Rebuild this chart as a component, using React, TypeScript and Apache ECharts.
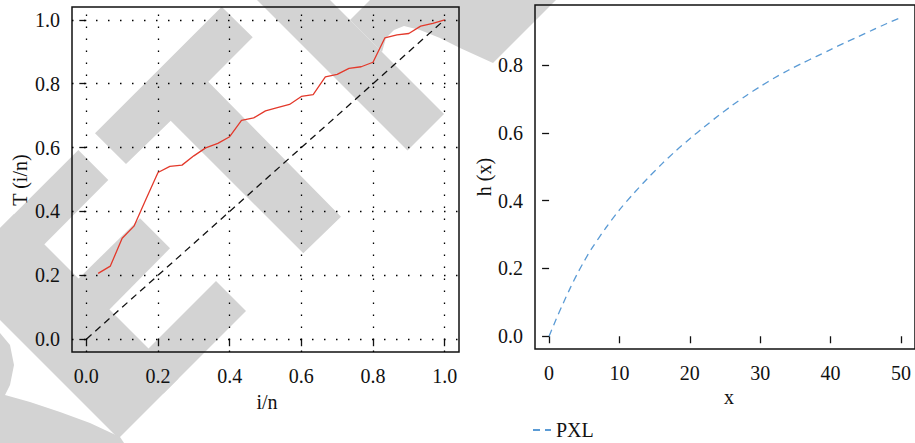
import React, { useEffect, useRef } from "react";
import * as echarts from "echarts";

// ---- data ----
const gridTicks = [0, 0.2, 0.4, 0.6, 0.8, 1.0];
const tX = [0.033, 0.067, 0.1, 0.133, 0.167, 0.2, 0.233, 0.267, 0.3, 0.333, 0.367, 0.4, 0.433, 0.467, 0.5, 0.533, 0.567, 0.6, 0.633, 0.667, 0.7, 0.733, 0.767, 0.8, 0.833, 0.867, 0.9, 0.933, 0.967, 1.0];
const tY = [0.206, 0.229, 0.316, 0.354, 0.44, 0.522, 0.541, 0.545, 0.574, 0.599, 0.613, 0.634, 0.685, 0.693, 0.715, 0.725, 0.735, 0.76, 0.766, 0.821, 0.829, 0.848, 0.853, 0.867, 0.943, 0.953, 0.957, 0.98, 0.989, 1.0];
const diagX = [0, 1];
const diagY = [0, 1];
const hX = [0, 1, 2, 3, 4, 5, 6, 8, 10, 12, 14, 16, 18, 20, 22, 24, 26, 28, 30, 32, 34, 36, 38, 40, 42, 44, 46, 48, 50];
const hY = [0, 0.05, 0.097, 0.142, 0.184, 0.222, 0.257, 0.318, 0.373, 0.421, 0.466, 0.508, 0.547, 0.583, 0.617, 0.65, 0.681, 0.71, 0.737, 0.762, 0.785, 0.806, 0.826, 0.846, 0.866, 0.885, 0.904, 0.923, 0.941];
const hXTicks = [0, 10, 20, 30, 40, 50];
const hYTicks = [0, 0.2, 0.4, 0.6, 0.8];
const legendNames = ["PXL"];

// background watermark shapes (decoration)
const wmShapes: number[][][] = [
  [[95, 133.3], [221.7, 6.7], [252.7, 37.3], [208.3, 81.7], [341, 216.7], [303.3, 253.3], [170.7, 120.7], [126, 164]],
  [[247, -10], [320, -10], [444, 114], [407.5, 150.5]],
  [[380, -10], [350, 20], [382, 52], [386, 38], [394, 30], [404, 26], [420, 30], [440, 38], [460, 48], [493, 63], [566, -10]],
  [[-10, 238.3], [78.3, 150], [108.3, 180], [-10, 299]],
  [[14, 214], [178.5, 378.5], [118.5, 438.5], [-46, 274]],
  [[140, 218.3], [170, 248.3], [104.5, 314.5], [73.5, 283.5]],
  [[216, 281], [246, 311], [163.5, 393.5], [133.5, 363.5]],
  [[0, 333], [10, 345], [14, 365], [10, 385], [5, 395], [30, 402], [60, 412], [90, 423], [120, 437], [124, 443], [0, 443]],
];

const serif = "'Liberation Serif', 'DejaVu Serif', serif";
const ink = "#111111";
const fs = 20;

export default function App() {
  const ref = useRef<HTMLDivElement>(null);

  useEffect(() => {
    document.body.style.margin = "0";
    if (!ref.current) return;
    const chart = echarts.init(ref.current, undefined, { renderer: "svg" });

    const labelStyle = { color: ink, fontFamily: serif, fontSize: fs };
    const tickStyle = { show: true, inside: false, length: 7, lineStyle: { color: ink, width: 1.3 } };

    const option: any = {
      animation: false,
      backgroundColor: "#ffffff",
      grid: [
        { left: 72, top: 7, width: 387, height: 345, show: true, borderColor: ink, borderWidth: 1.5, backgroundColor: "transparent" },
        { left: 535, top: 5, width: 387, height: 344, show: true, borderColor: ink, borderWidth: 1.5, backgroundColor: "transparent" },
      ],
      xAxis: [
        {
          type: "value", gridIndex: 0, min: -0.04, max: 1.04,
          axisLine: { show: false }, splitLine: { show: false },
          axisTick: { ...tickStyle, customValues: gridTicks },
          axisLabel: { ...labelStyle, customValues: gridTicks, margin: 14, formatter: (v: number) => v.toFixed(1) },
        },
        {
          type: "value", gridIndex: 1, min: -2, max: 52,
          axisLine: { show: false }, splitLine: { show: false },
          axisTick: { ...tickStyle, customValues: hXTicks },
          axisLabel: { ...labelStyle, customValues: hXTicks, margin: 14, formatter: (v: number) => String(v) },
        },
      ],
      yAxis: [
        {
          type: "value", gridIndex: 0, min: -0.04, max: 1.04,
          axisLine: { show: false }, splitLine: { show: false },
          axisTick: { ...tickStyle, customValues: gridTicks },
          axisLabel: { ...labelStyle, customValues: gridTicks, margin: 12, formatter: (v: number) => v.toFixed(1) },
        },
        {
          type: "value", gridIndex: 1, min: -0.0376, max: 0.9776,
          axisLine: { show: false }, splitLine: { show: false },
          axisTick: { ...tickStyle, customValues: hYTicks },
          axisLabel: { ...labelStyle, customValues: hYTicks, margin: 12, formatter: (v: number) => v.toFixed(1) },
        },
      ],
      legend: {
        data: legendNames,
        left: 532, top: 420, padding: 0,
        itemWidth: 18, itemHeight: 12, itemGap: 10,
        itemStyle: { opacity: 0 },
        textStyle: { color: ink, fontFamily: serif, fontSize: fs },
      },
      graphic: {
        elements: [
          ...wmShapes.map((pts) => ({
            type: "polygon", z: -10, silent: true,
            shape: { points: pts },
            style: { fill: "#d3d3d3" },
          })),
          { type: "text", x: 20, y: 180, rotation: Math.PI / 2, style: { text: "T (i/n)", fontFamily: serif, fontSize: fs, fill: ink, align: "center", verticalAlign: "middle" } },
          { type: "text", x: 267, y: 402, style: { text: "i/n", fontFamily: serif, fontSize: fs, fill: ink, align: "center", verticalAlign: "middle" } },
          { type: "text", x: 484, y: 177, rotation: Math.PI / 2, style: { text: "h (x)", fontFamily: serif, fontSize: fs, fill: ink, align: "center", verticalAlign: "middle" } },
          { type: "text", x: 729, y: 397, style: { text: "x", fontFamily: serif, fontSize: fs, fill: ink, align: "center", verticalAlign: "middle" } },
        ],
      },
      series: [
        {
          type: "line", xAxisIndex: 0, yAxisIndex: 0, z: 2,
          data: diagX.map((x, i) => [x, diagY[i]]),
          symbol: "none",
          lineStyle: { color: ink, width: 1.3, type: [7, 5] },
          markLine: {
            silent: true, symbol: ["none", "none"], label: { show: false },
            lineStyle: { color: "#000000", width: 1.3, type: [1.5, 10.5] },
            emphasis: { disabled: true },
            data: [
              ...gridTicks.map((v) => ({ xAxis: v })),
              ...gridTicks.map((v) => ({ yAxis: v })),
            ],
          },
        },
        {
          type: "line", xAxisIndex: 0, yAxisIndex: 0, z: 5,
          data: tX.map((x, i) => [x, tY[i]]),
          symbol: "none",
          lineStyle: { color: "#e3392b", width: 1.3 },
        },
        {
          name: legendNames[0], type: "line", xAxisIndex: 1, yAxisIndex: 1, z: 5,
          data: hX.map((x, i) => [x, hY[i]]),
          symbol: "none", smooth: 0.3,
          lineStyle: { color: "#5b9bd5", width: 1.3, type: [7, 5] },
        },
      ],
    };

    chart.setOption(option);
    return () => chart.dispose();
  }, []);

  return <div ref={ref} style={{ width: 915, height: 443 }} />;
}
